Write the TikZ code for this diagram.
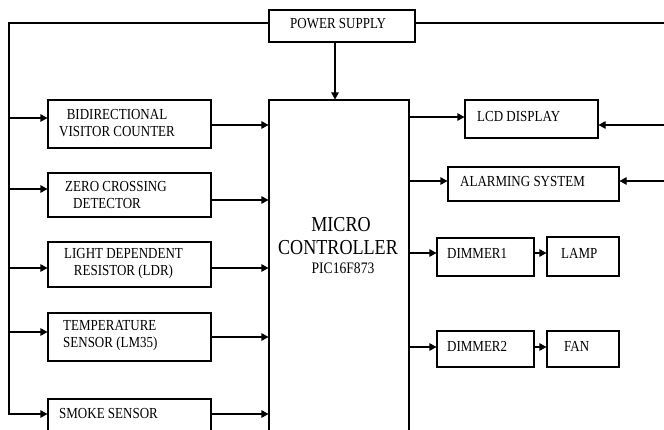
\documentclass[tikz,border=0pt]{standalone}
\usepackage{fontspec}
\setmainfont{Liberation Serif}[FakeStretch=0.85]
\usetikzlibrary{calc, positioning, arrows.meta}

\tikzset{
  blk/.style={draw, line width=1.1pt, inner sep=0pt},
  txt/.style={inner sep=0pt, font=\fontsize{15.3}{17}\selectfont},
  big/.style={inner sep=0pt, font=\fontsize{21.3}{23}\selectfont},
  wire/.style={line width=1.1pt},
  arr/.style={wire, -{Triangle[length=7pt,width=7.5pt]}}
}

\begin{document}
\begin{tikzpicture}[x=1pt, y=-1pt]
  \useasboundingbox (0,0) rectangle (664,430);
  \clip (0,0) rectangle (664,430);

  % Supply and controller
  \node[blk, minimum width=146pt, minimum height=32pt] (ps) at (342,26) {};
  \node[blk, minimum width=140pt, minimum height=360pt] (mcu) at (339,280) {};

  % Input blocks
  \node[blk, minimum width=163pt, minimum height=48pt] (bvc) at (129.5,124) {};
  \node[blk, minimum width=163pt, minimum height=44pt] (zcd) at (129.5,195) {};
  \node[blk, minimum width=163pt, minimum height=45pt] (ldr) at (129.5,264.5) {};
  \node[blk, minimum width=163pt, minimum height=48pt] (tmp) at (129.5,337) {};
  \node[blk, minimum width=163pt, minimum height=50pt] (smk) at (129.5,424) {};

  % Output blocks
  \node[blk, minimum width=133pt, minimum height=38pt] (lcd) at (531.5,119) {};
  \node[blk, minimum width=171pt, minimum height=34pt] (alm) at (533.5,184) {};
  \node[blk, minimum width=97pt, minimum height=38pt] (dim1) at (485.5,257) {};
  \node[blk, minimum width=72pt, minimum height=39pt] (lamp) at (583,256.5) {};
  \node[blk, minimum width=97pt, minimum height=36pt] (dim2) at (485.5,349) {};
  \node[blk, minimum width=72pt, minimum height=36pt] (fan) at (583,349) {};

  % Texts
  \node[txt, anchor=west] (ps-t) at (290,24) {POWER SUPPLY};
  \node[big] (mcu-t1) at (341,225) {MICRO};
  \node[big] (mcu-t2) at (338,248) {CONTROLLER};
  \node[txt, font=\fontsize{16}{18}\selectfont] (mcu-t3) at (343,268) {PIC16F873};
  \node[txt, align=center] (bvc-t) at (117,123) {BIDIRECTIONAL\\VISITOR COUNTER};
  \node[txt, anchor=west, align=left] (zcd-t) at (65,195) {ZERO CROSSING\\\hspace*{8pt}DETECTOR};
  \node[txt, align=center] (ldr-t) at (123.5,264) {LIGHT DEPENDENT\\RESISTOR (LDR)};
  \node[txt, anchor=west, align=left] (tmp-t) at (63,335.5) {TEMPERATURE\\SENSOR (LM35)};
  \node[txt, anchor=west] (smk-t) at (59,414) {SMOKE SENSOR};
  \node[txt, anchor=west] (lcd-t) at (477,117) {LCD DISPLAY};
  \node[txt, anchor=west] (alm-t) at (460,182) {ALARMING SYSTEM};
  \node[txt, anchor=west] (dim1-t) at (447,253) {DIMMER1};
  \node[txt, anchor=west] (lamp-t) at (561,253) {LAMP};
  \node[txt, anchor=west] (dim2-t) at (447,346) {DIMMER2};
  \node[txt, anchor=west] (fan-t) at (564,346) {FAN};

  % Tap points
  \coordinate (busL) at (9,23);
  \coordinate (busR) at (690,23);
  \coordinate (ps-out) at ($(ps.south)+(-7,0)$);
  \coordinate (bvc-in) at ($(bvc.west)+(0,-6)$);
  \coordinate (zcd-in) at ($(zcd.west)+(0,-6)$);
  \coordinate (ldr-in) at ($(ldr.west)+(0,3.5)$);
  \coordinate (tmp-in) at ($(tmp.west)+(0,-5)$);
  \coordinate (smk-in) at ($(smk.west)+(0,-10)$);
  \coordinate (bvc-out) at ($(bvc.east)+(0,1)$);
  \coordinate (zcd-out) at ($(zcd.east)+(0,5)$);
  \coordinate (ldr-out) at ($(ldr.east)+(0,3.5)$);
  \coordinate (tmp-out) at ($(tmp.east)+(0,0)$);
  \coordinate (smk-out) at ($(smk.east)+(0,-10)$);
  \coordinate (lcd-in) at ($(lcd.west)+(0,-2)$);
  \coordinate (alm-in) at ($(alm.west)+(0,-3)$);
  \coordinate (dim1-in) at ($(dim1.west)+(0,-4)$);
  \coordinate (dim2-in) at ($(dim2.west)+(0,-2)$);
  \coordinate (lcd-r) at ($(lcd.east)+(0,6)$);
  \coordinate (alm-r) at ($(alm.east)+(0,-3)$);

  % Supply lines
  \draw[arr] (ps-out) -- (ps-out |- mcu.north);
  \draw[arr] ($(ps.west)+(0,-3)$) -- (busL) |- (smk-in);
  \draw[arr] (busL |- bvc-in) -- (bvc-in);
  \draw[arr] (busL |- zcd-in) -- (zcd-in);
  \draw[arr] (busL |- ldr-in) -- (ldr-in);
  \draw[arr] (busL |- tmp-in) -- (tmp-in);
  \draw[wire] ($(ps.east)+(0,-3)$) -- (busR) -- (busR |- alm-r);
  \draw[arr] (busR |- lcd-r) -- (lcd-r);
  \draw[arr] (busR |- alm-r) -- (alm-r);

  % Inputs to controller
  \draw[arr] (bvc-out) -- (bvc-out -| mcu.west);
  \draw[arr] (zcd-out) -- (zcd-out -| mcu.west);
  \draw[arr] (ldr-out) -- (ldr-out -| mcu.west);
  \draw[arr] (tmp-out) -- (tmp-out -| mcu.west);
  \draw[arr] (smk-out) -- (smk-out -| mcu.west);

  % Controller outputs
  \draw[arr] (lcd-in -| mcu.east) -- (lcd-in);
  \draw[arr] (alm-in -| mcu.east) -- (alm-in);
  \draw[arr] (dim1-in -| mcu.east) -- (dim1-in);
  \draw[arr] (dim2-in -| mcu.east) -- (dim2-in);
  \draw[arr] (dim1-in -| dim1.east) -- (dim1-in -| lamp.west);
  \draw[arr] (dim2-in -| dim2.east) -- (dim2-in -| fan.west);
\end{tikzpicture}
\end{document}
